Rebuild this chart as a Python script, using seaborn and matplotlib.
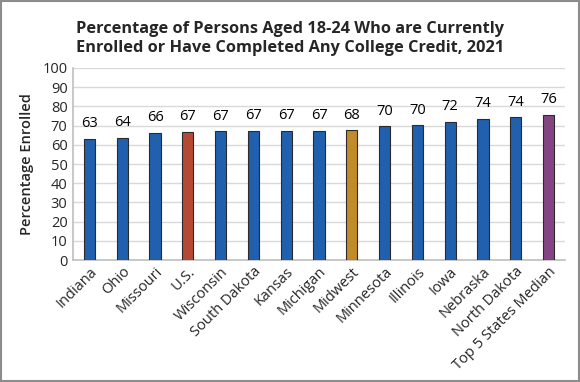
import pandas as pd
import seaborn as sns
import matplotlib.pyplot as plt
from matplotlib.patches import Rectangle

# Data
categories = ['Indiana', 'Ohio', 'Missouri', 'U.S.', 'Wisconsin', 'South Dakota',
              'Kansas', 'Michigan', 'Midwest', 'Minnesota', 'Illinois', 'Iowa',
              'Nebraska', 'North Dakota', 'Top 5 States Median']
values = [63.3, 63.8, 66.3, 66.7, 67.0, 67.2, 67.3, 67.4, 67.6, 69.6, 70.2, 71.9,
          73.6, 74.3, 75.6]
labels = ['63', '64', '66', '67', '67', '67', '67', '67', '68', '70', '70', '72',
          '74', '74', '76']

BLUE = '#0A5CC6'
colors = {c: BLUE for c in categories}
colors['U.S.'] = '#CC3A1E'
colors['Midwest'] = '#DB930F'
colors['Top 5 States Median'] = '#8E3A8C'

df = pd.DataFrame({'cat': categories, 'val': values})

sns.set_style('white')
plt.rcParams['font.family'] = ['Open Sans', 'DejaVu Sans']

fig = plt.figure(figsize=(5.8, 3.82), dpi=100)
ax = fig.add_axes([0.126, 0.319, 0.848, 0.503])

sns.barplot(data=df, x='cat', y='val', hue='cat', palette=colors, legend=False,
            width=0.34, edgecolor='#2b2b2b', linewidth=0.8, ax=ax, zorder=3)

for i, (v, t) in enumerate(zip(values, labels)):
    ax.text(i, v + 4, t, ha='center', va='bottom', fontsize=10.5, color='black')

ax.set_ylim(0, 100)
ax.set_yticks(range(0, 101, 10))
ax.set_xlim(-0.5, len(categories) - 0.5)
ax.grid(axis='y', color='#d9d9d9', linewidth=1, zorder=0)
ax.tick_params(axis='y', labelsize=10.5, length=0, pad=4)
ax.tick_params(axis='x', labelsize=10.5, length=0, pad=3)
plt.setp(ax.get_xticklabels(), rotation=45, ha='right', rotation_mode='anchor')

for s in ['top', 'right']:
    ax.spines[s].set_visible(False)
ax.spines['left'].set_color('#bfbfbf')
ax.spines['bottom'].set_color('#bfbfbf')
ax.spines['left'].set_linewidth(1.2)
ax.spines['bottom'].set_linewidth(1.2)

ax.set_xlabel('')
ax.set_ylabel('Percentage Enrolled', fontsize=10.5, fontweight='semibold', labelpad=6)

fig.text(0.5, 0.9, 'Percentage of Persons Aged 18-24 Who are Currently\n'
         'Enrolled or Have Completed Any College Credit, 2021',
         ha='center', va='center', fontsize=11.8, fontweight='bold',
         linespacing=1.25)

# gray frame around the whole image
fig.patches.append(Rectangle((0.002, 0.003), 0.996, 0.994, transform=fig.transFigure,
                             fill=False, edgecolor='#8c8c8c', linewidth=1.5))

plt.savefig('out.png', dpi=100)
plt.close()
